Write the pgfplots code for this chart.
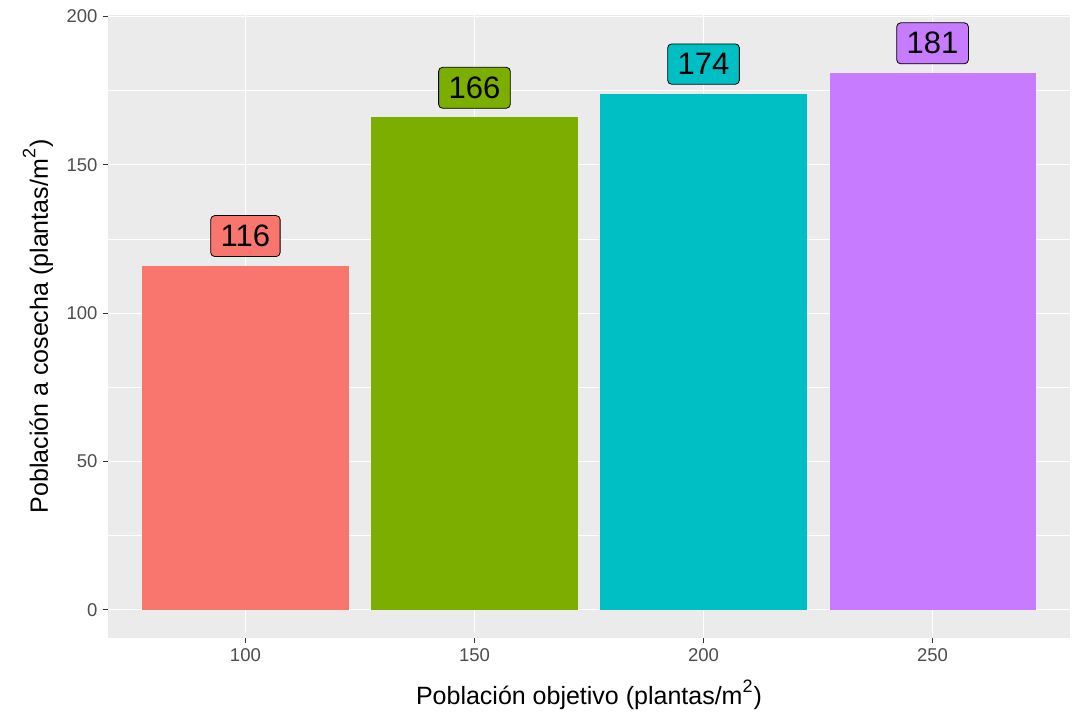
\documentclass[border=0pt]{standalone}
\usepackage{pgfplots}
\pgfplotsset{compat=1.18}
\usepackage{fontspec}
\setmainfont{Liberation Sans}
\definecolor{panelbg}{HTML}{EBEBEB}
\definecolor{tickgrey}{HTML}{4D4D4D}
\definecolor{tickmark}{HTML}{333333}
\definecolor{cA}{HTML}{F8766D}
\definecolor{cB}{HTML}{7CAE00}
\definecolor{cC}{HTML}{00BFC4}
\definecolor{cD}{HTML}{C77CFF}
\newcommand{\sq}{\raisebox{0.5em}{\fontsize{18}{18}\selectfont 2}\kern1pt}
\begin{document}
\begin{tikzpicture}
\path[use as bounding box] (-108pt,-80pt) rectangle (968pt,638pt);
\begin{axis}[
  at={(0pt,0pt)}, anchor=south west,
  scale only axis, width=962pt, height=623pt,
  xmin=0.4, xmax=4.6, ymin=-9.55, ymax=200.55,
  xtick={1,2,3,4}, xticklabels={100,150,200,250},
  ytick={0,50,100,150,200},
  minor ytick={25,75,125,175},
  minor tick length=0pt,
  major tick length=5pt,
  tick align=outside,
  xtick pos=bottom, ytick pos=left,
  tick style={tickmark, line width=1pt},
  axis line style={draw=none},
  axis background/.style={fill=panelbg},
  xmajorgrids, ymajorgrids, yminorgrids,
  major grid style={white, line width=1.1pt},
  minor grid style={white, line width=0.55pt},
  /pgf/number format/assume math mode=true,
  ticklabel style={font=\fontsize{18.5}{20}\selectfont, text=tickgrey},
  yticklabel style={xshift=-2pt},
  xticklabel style={yshift=-2pt},
  xlabel={Población objetivo (plantas/m\sq)},
  ylabel={Población a cosecha (plantas/m\sq)},
  label style={font=\fontsize{25}{27}\selectfont},
  xlabel style={at={(axis description cs:0.5,-0.1075)}, anchor=base},
  ylabel style={at={(axis description cs:-0.0624,0.5)}, anchor=base, rotate=0},
  clip=false,
  lbl/.style={nodes near coords={\pgfplotspointmeta}, point meta=explicit symbolic,
    nodes near coords style={anchor=center, yshift=29.65pt, draw=black, line width=0.8pt,
      rounded corners=4pt, fill=#1, text=black, inner xsep=10pt, inner ysep=9.5pt,
      font=\fontsize{31}{32}\selectfont}},
]
\addplot[ybar, bar width=0.9, fill=cA, draw=none, lbl=cA] coordinates {(1,116) [116]};
\addplot[ybar, bar width=0.9, fill=cB, draw=none, lbl=cB] coordinates {(2,166) [166]};
\addplot[ybar, bar width=0.9, fill=cC, draw=none, lbl=cC] coordinates {(3,174) [174]};
\addplot[ybar, bar width=0.9, fill=cD, draw=none, lbl=cD] coordinates {(4,181) [181]};
\end{axis}
\end{tikzpicture}
\end{document}
